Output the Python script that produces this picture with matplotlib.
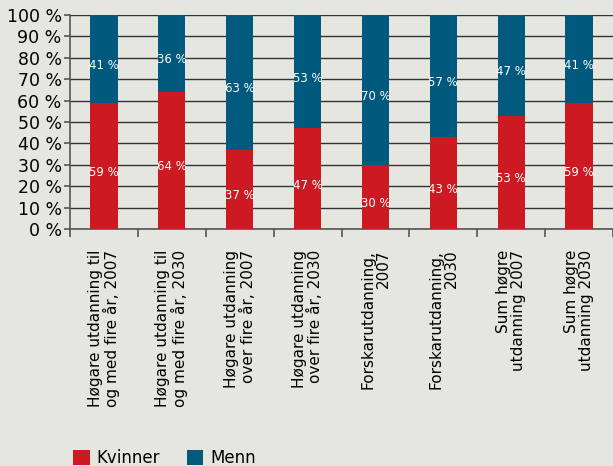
import matplotlib.pyplot as plt
import numpy as np

categories = ['Høgare utdanning til\nog med fire år, 2007',
              'Høgare utdanning til\nog med fire år, 2030',
              'Høgare utdanning\nover fire år, 2007',
              'Høgare utdanning\nover fire år, 2030',
              'Forskarutdanning,\n2007',
              'Forskarutdanning,\n2030',
              'Sum høgre\nutdanning 2007',
              'Sum høgre\nutdanning 2030']
kvinner = [59, 64, 37, 47, 30, 43, 53, 59]
menn = [41, 36, 63, 53, 70, 57, 47, 41]

bg = '#e6e6e1'
red = '#cd1a22'
blue = '#015a7e'
narrow = ['Liberation Sans Narrow', 'DejaVu Sans']

fig = plt.figure(figsize=(6.13, 4.66), dpi=100, facecolor=bg)
ax = fig.add_axes([70 / 613, 1 - 229 / 466, 1 - 70 / 613, (229 - 15) / 466])
ax.set_facecolor(bg)

x = np.arange(len(categories))
ax.bar(x, kvinner, width=0.4, color=red, label='Kvinner', zorder=3)
ax.bar(x, menn, width=0.4, bottom=kvinner, color=blue, label='Menn', zorder=3)

for i in range(len(x)):
    ax.text(x[i], kvinner[i] / 2 - 3, f'{kvinner[i]} %', color='white', ha='center', va='center',
            fontsize=8.5, family=narrow, zorder=4)
    ax.text(x[i], kvinner[i] + menn[i] / 2 - 3, f'{menn[i]} %', color='white', ha='center', va='center',
            fontsize=8.5, family=narrow, zorder=4)

ax.set_xlim(-0.5, len(x) - 0.5)
ax.set_ylim(0, 100)
ax.set_yticks(range(0, 101, 10))
ax.set_yticklabels([f'{v} %' for v in range(0, 101, 10)], fontsize=12.5)
ax.yaxis.grid(True, color='#333333', linewidth=1, zorder=1)

ax.set_xticks(x)
ax.set_xticklabels(categories, rotation=90, fontsize=11, ha='center', va='top',
                   linespacing=1.05, multialignment='right')
ax.set_xticks(np.arange(-0.5, len(x), 1), minor=True)
ax.tick_params(axis='x', which='major', length=0, pad=15)
ax.tick_params(axis='x', which='minor', length=6, width=1.2, color='#555555')
ax.tick_params(axis='y', length=4, width=1.2, color='#555555', pad=2)

for s in ['top', 'right']:
    ax.spines[s].set_visible(False)
ax.spines['left'].set_color('#555555')
ax.spines['bottom'].set_color('#555555')
ax.spines['left'].set_linewidth(1.2)
ax.spines['bottom'].set_linewidth(1.2)

fig.legend(loc='lower left', bbox_to_anchor=(0.095, -0.035), ncol=2, frameon=False,
           fontsize=12, handlelength=1.0, handleheight=1.0, columnspacing=1.6, handletextpad=0.4)

fig.savefig('out.png', dpi=100, facecolor=bg)
